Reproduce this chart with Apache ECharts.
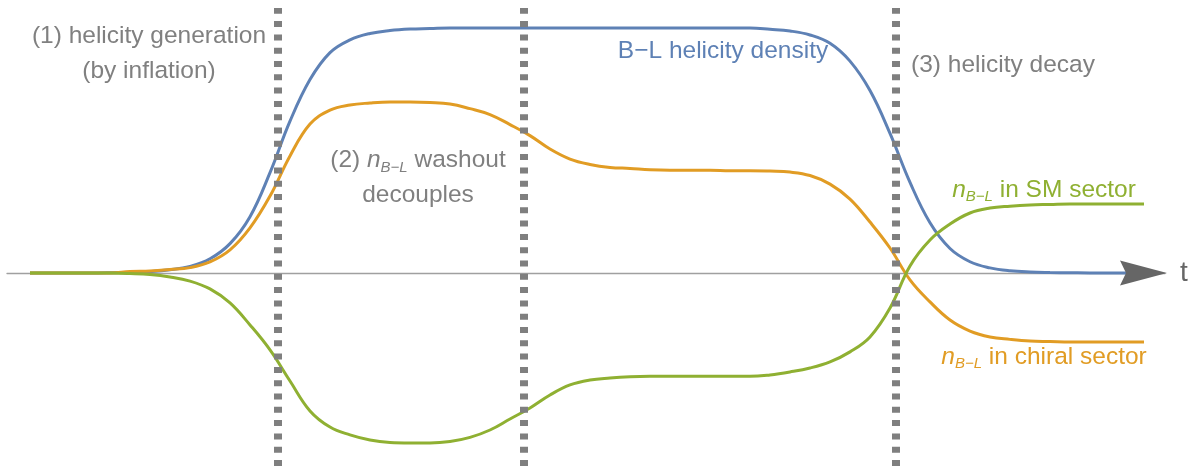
<!DOCTYPE html>
<html><head><meta charset="utf-8">
<script src="https://cdn.jsdelivr.net/npm/echarts@6/dist/echarts.min.js"></script>
<style>html,body{margin:0;padding:0;background:#fff}#c{width:1195px;height:466px}</style>
</head><body><div id="c"></div>
<script>
// time samples (arbitrary units) shared by the three curves
// (normalised so that the B−L helicity plateau is 1)
const timeT = [2.3, 4.3, 6.3, 8.3, 10.3, 12.3, 14.3, 16.3, 18.3, 20.3,
  22.3, 24.3, 26.3, 28.3, 30.3, 32.3, 34.3, 36.3, 38.3, 40.3,
  42.3, 44.3, 46.3, 48.3, 50.3, 52.3, 54.3, 56.3, 58.3, 60.3,
  62.3, 64.3, 66.3, 68.3, 70.3, 72.3, 74.3, 76.3, 78.3, 80.3,
  82.3, 84.3, 86.3, 88.3, 90.3, 92.3, 94.3, 96.3, 98.3, 100.3,
  102.3, 104.3, 106.3, 108.3, 110.3, 112.3, 113.7];

const helicityV = [0, 0, 0, 0, 0.001, 0.003, 0.006, 0.013, 0.027, 0.058,
  0.12, 0.23, 0.41, 0.62, 0.79, 0.90, 0.952, 0.978, 0.99, 0.996,
  0.998, 1.0, 1.0, 1.0, 1.0, 1.0, 1.0, 1.0, 1.0, 1.0,
  1.0, 1.0, 1.0, 1.0, 1.0, 1.0, 1.0, 0.995, 0.988, 0.972,
  0.938, 0.865, 0.745, 0.57, 0.37, 0.205, 0.10, 0.046, 0.021, 0.009,
  0.004, 0.002, 0.001, 0, 0, 0, 0];

const chiralV = [0, 0, 0, 0, 0, 0.006, 0.008, 0.014, 0.022, 0.045,
  0.094, 0.184, 0.314, 0.478, 0.608, 0.665, 0.686, 0.694, 0.698, 0.698,
  0.696, 0.690, 0.671, 0.647, 0.606, 0.561, 0.506, 0.465, 0.443, 0.431,
  0.427, 0.422, 0.420, 0.420, 0.420, 0.418, 0.418, 0.416, 0.412, 0.398,
  0.363, 0.302, 0.208, 0.102, -0.028, -0.118, -0.192, -0.237, -0.261, -0.271,
  -0.278, -0.280, -0.282, -0.282, -0.282, -0.282, -0.282];

const smV = [0, 0, 0, 0, 0, -0.002, -0.006, -0.016, -0.033, -0.065,
  -0.122, -0.212, -0.314, -0.441, -0.563, -0.629, -0.661, -0.682, -0.692, -0.694,
  -0.694, -0.688, -0.671, -0.641, -0.596, -0.551, -0.498, -0.457, -0.437, -0.429,
  -0.424, -0.422, -0.422, -0.422, -0.422, -0.422, -0.422, -0.416, -0.404, -0.388,
  -0.363, -0.322, -0.261, -0.143, 0.029, 0.135, 0.200, 0.245, 0.265, 0.273,
  0.278, 0.280, 0.282, 0.282, 0.282, 0.282, 0.282];

const guideT = [27.1, 51.7, 88.9];   // stage boundaries (1), (2), (3)
const arrowAt = [113.65, 0];

const zip = (a, b) => a.map((x, i) => [x, b[i]]);
const FONT = '"Liberation Sans", Arial, sans-serif';
const GRAY = '#808080';
const BLUE = '#5E81B5', ORANGE = '#E19C24', GREEN = '#8FB032';
const FS = 24.5;
const richSub = {
  i: { fontStyle: 'italic', fontSize: FS, fontFamily: FONT },
  s: { fontStyle: 'italic', fontSize: 15, fontFamily: FONT, padding: [14, 0, 0, 0] }
};
function txt(x, y, text, color) {
  return {
    type: 'text', x: x, y: y, silent: true, z: 100,
    style: {
      text: text, fill: color, fontSize: FS, fontFamily: FONT,
      textAlign: 'center', textVerticalAlign: 'middle', lineHeight: 35, rich: richSub
    }
  };
}

const chart = echarts.init(document.getElementById('c'));
chart.setOption({
  animation: false,
  grid: { left: 7, right: 30, top: 8, bottom: 0 },
  xAxis: {
    type: 'value', min: 0, max: 115.8,
    axisLine: { show: true, onZero: true, lineStyle: { color: '#a0a0a0', width: 1.3 } },
    axisTick: { show: false }, axisLabel: { show: false }, splitLine: { show: false }
  },
  yAxis: {
    type: 'value', min: -0.788, max: 1.082, show: false,
    axisLine: { show: false }, splitLine: { show: false }
  },
  series: [
    {
      name: 'guides', type: 'line', data: [], z: 1, silent: true,
      markLine: {
        silent: true, symbol: ['none', 'none'], label: { show: false },
        lineStyle: { color: '#7f7f7f', width: 8, type: [6, 7.3], opacity: 1 },
        emphasis: { disabled: true },
        data: guideT.map(v => ({ xAxis: v }))
      }
    },
    { name: 'B−L helicity density', type: 'line', data: zip(timeT, helicityV), smooth: 0.4, showSymbol: false, z: 3,
      lineStyle: { color: BLUE, width: 3 } },
    { name: 'nB−L in chiral sector', type: 'line', data: zip(timeT, chiralV), smooth: 0.4, showSymbol: false, z: 3,
      lineStyle: { color: ORANGE, width: 3 } },
    { name: 'nB−L in SM sector', type: 'line', data: zip(timeT, smV), smooth: 0.4, showSymbol: false, z: 3,
      lineStyle: { color: GREEN, width: 3 } },
    { name: 'arrow', type: 'scatter', data: [arrowAt], z: 5, silent: true,
      symbol: 'path://M0,0 L47,12.5 L0,25 L6,12.5 Z', symbolSize: [47, 25],
      itemStyle: { color: '#666666', opacity: 1 } }
  ],
  graphic: [
    txt(149, 54, '(1) helicity generation\n(by inflation)', GRAY),
    txt(418, 178, '(2) {i|n}{s|B−L} washout\ndecouples', GRAY),
    txt(723, 51, 'B−L helicity density', BLUE),
    txt(1003, 65, '(3) helicity decay', GRAY),
    txt(1044, 190, '{i|n}{s|B−L} in SM sector', GREEN),
    txt(1044, 357, '{i|n}{s|B−L} in chiral sector', ORANGE),
    { type: 'text', x: 1184, y: 273, silent: true, z: 100,
      style: { text: 't', fill: '#666666', fontSize: 28, fontFamily: FONT, textAlign: 'center', textVerticalAlign: 'middle' } }
  ]
});
</script></body></html>
